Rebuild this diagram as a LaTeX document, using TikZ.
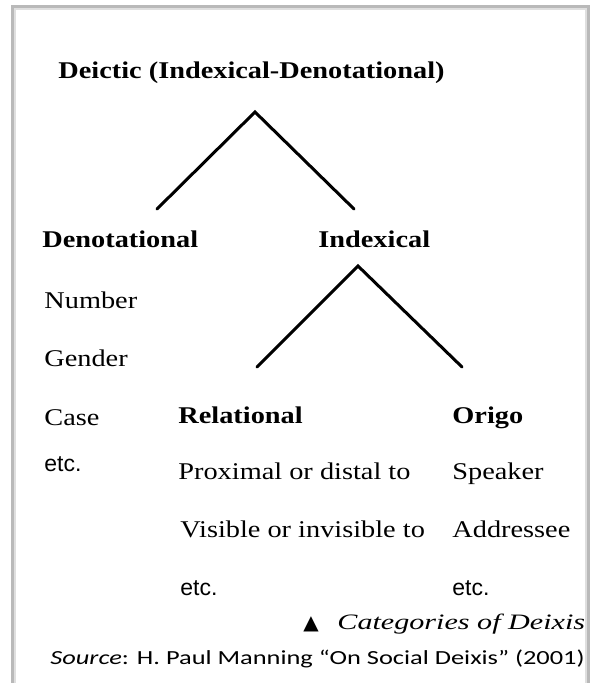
\documentclass[tikz,border=0pt]{standalone}
\usepackage{fontspec}
\setmainfont{Liberation Serif}[FakeStretch=1.18]
\newfontfamily\etcfont{Liberation Sans}
\newfontfamily\capfont{Liberation Serif}[FakeStretch=1.37]
\newfontfamily\srcfont{Carlito}[FakeStretch=1.32]
\newfontfamily\symfont{DejaVu Sans}
\begin{document}
\begin{tikzpicture}[x=0.5pt,y=-0.5pt,
  lbl/.style={anchor=base west,inner sep=0pt,font=\fontsize{12}{14}\selectfont},
  head/.style={lbl,font=\fontsize{12}{14}\selectfont\bfseries},
  etcl/.style={anchor=base west,inner sep=0pt,font=\fontsize{11.5}{14}\selectfont\etcfont},
  branch/.style={line width=1.5pt,line cap=round,line join=miter}]
\useasboundingbox (0,0) rectangle (600,683);
% outer frame
\draw[gray!55,line width=1.2pt] (12.5,6.5) rectangle (588.5,700);
\draw[gray!25,line width=0.6pt] (15,9) rectangle (586,700);

% top level
\node[head] (deictic) at (58,79) {Deictic (Indexical-Denotational)};
\coordinate (apexA) at (255,112);
\coordinate (legAl) at (157,209);
\coordinate (legAr) at (354,209);
\draw[branch] (legAl) -- (apexA) -- (legAr);

% second level
\node[head] (denot) at (42,248) {Denotational};
\node[head] (index) at (318,248) {Indexical};
\node[lbl] (number) at (44,308) {Number};
\node[lbl] (gender) at (44,366) {Gender};
\node[lbl] (case) at (44,425) {Case};
\node[etcl] (etcA) at (44,471) {etc.};

\coordinate (apexB) at (358,266);
\coordinate (legBl) at (257,367);
\coordinate (legBr) at (462,367);
\draw[branch] (legBl) -- (apexB) -- (legBr);

% third level
\node[head] (relational) at (178,423) {Relational};
\node[lbl] (proximal) at (178,479) {Proximal or distal to};
\node[lbl] (visible) at (180,537) {Visible or invisible to};
\node[etcl] (etcB) at (180,595) {etc.};

\node[head] (origo) at (452,423) {Origo};
\node[lbl] (speaker) at (452,479) {Speaker};
\node[lbl] (addressee) at (452,537) {Addressee};
\node[etcl] (etcC) at (452,595) {etc.};

% caption
\node[anchor=base west,inner sep=0pt,font=\fontsize{10}{12}\selectfont\symfont] (tri) at (303,629) {▲};
\node[anchor=base west,inner sep=0pt,font=\fontsize{11}{13}\selectfont\capfont\itshape] (caption) at (337,629) {Categories of Deixis};
\node[anchor=base west,inner sep=0pt,font=\fontsize{10}{12}\selectfont\srcfont] (source) at (50,664) {\textit{Source}: H. Paul Manning “On Social Deixis” (2001)};
\end{tikzpicture}
\end{document}
